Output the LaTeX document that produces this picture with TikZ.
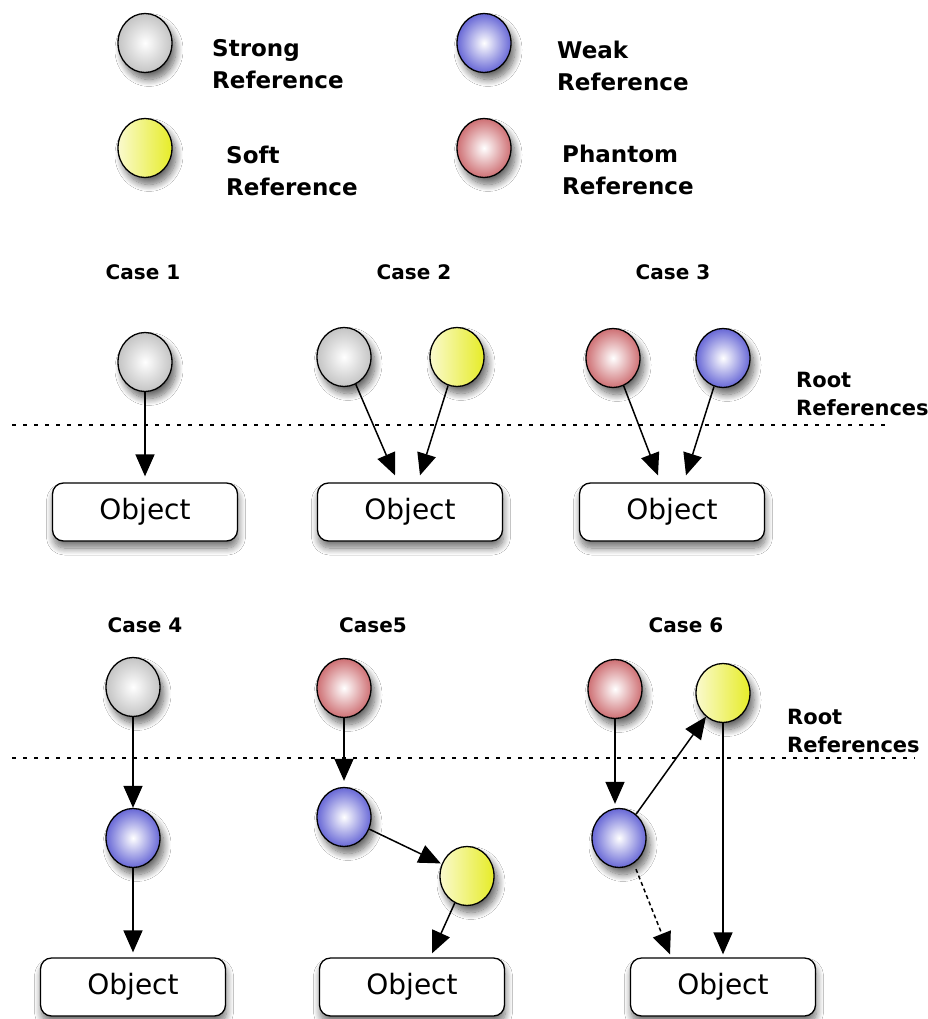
\documentclass[tikz,border=0pt]{standalone}
\usepackage{fontspec}
\setmainfont{DejaVu Sans}
\usetikzlibrary{arrows.meta,shapes.geometric,shadows.blur,calc}
\definecolor{grayout}{RGB}{196,196,196}
\definecolor{yelout}{RGB}{230,236,40}
\definecolor{yelin}{RGB}{250,250,205}
\definecolor{redout}{RGB}{206,112,116}
\definecolor{blueout}{RGB}{104,104,214}
\begin{document}
\begin{tikzpicture}[x=1pt,y=-1pt,
  ball/.style={ellipse,draw=black,line width=1.3pt,minimum width=54pt,minimum height=59pt,inner sep=0pt,
    blur shadow={shadow xshift=4pt,shadow yshift=-7pt,shadow blur radius=7pt,shadow blur steps=12,shadow opacity=60}},
  strongball/.style={ball,inner color=white,outer color=grayout},
  softball/.style={ball,left color=yelin,right color=yelout},
  weakball/.style={ball,inner color=white,outer color=blueout},
  phantomball/.style={ball,inner color=white,outer color=redout},
  obj/.style={draw=black,rounded corners=11pt,line width=1.3pt,minimum width=185pt,minimum height=58pt,fill=white,
    font=\fontsize{28}{30}\selectfont,
    blur shadow={shadow xshift=1pt,shadow yshift=-7pt,shadow blur radius=7pt,shadow blur steps=12,shadow opacity=55}},
  lbl/.style={font=\bfseries\fontsize{23}{32}\selectfont,align=left,anchor=west,inner sep=0pt},
  rootlbl/.style={font=\bfseries\fontsize{21}{28}\selectfont,align=left,anchor=west,inner sep=0pt},
  caselbl/.style={font=\bfseries\fontsize{20}{24}\selectfont,inner sep=0pt},
  arr/.style={-{Triangle[length=22pt,width=19pt]},line width=1.5pt},
  sep/.style={line width=1.6pt,dash pattern=on 4pt off 7pt},
]
\useasboundingbox[fill=white] (0,0) rectangle (928,1019);

% legend
\node[strongball] (ls) at (145,43) {};
\node[softball] (lso) at (145,148) {};
\node[weakball] (lw) at (484,43) {};
\node[phantomball] (lp) at (484,148) {};
\node[lbl] (tls) at (212,64) {Strong\\Reference};
\node[lbl] (tlso) at (226,171) {Soft\\Reference};
\node[lbl] (tlw) at (557,66) {Weak\\Reference};
\node[lbl] (tlp) at (562,170) {Phantom\\Reference};

% case labels
\node[caselbl] (k1) at (143,272) {Case 1};
\node[caselbl] (k2) at (414,272) {Case 2};
\node[caselbl] (k3) at (673,272) {Case 3};
\node[caselbl] (k4) at (145,625) {Case 4};
\node[caselbl] (k5) at (373,625) {Case5};
\node[caselbl] (k6) at (686,625) {Case 6};

% separators
\coordinate (s1a) at (12,425);
\coordinate (s1b) at (885,425);
\coordinate (s2a) at (12,758);
\coordinate (s2b) at (915,758);
\draw[sep] (s1a) -- (s1b);
\draw[sep] (s2a) -- (s2b);
\node[rootlbl] (r1) at (796,394) {Root\\References};
\node[rootlbl] (r2) at (787,731) {Root\\References};

% row 1
\node[strongball] (c1g) at (145,362) {};
\node[strongball] (c2g) at (344,357) {};
\node[softball] (c2y) at (457,357) {};
\node[phantomball] (c3r) at (613,358) {};
\node[weakball] (c3b) at (723,358) {};
\node[obj] (o1) at (145,512) {Object};
\node[obj] (o2) at (410,512) {Object};
\node[obj] (o3) at (672,512) {Object};

\draw[arr] (c1g) -- ($(o1.north)+(0,-6)$);
\draw[arr] (c2g) -- ($(o2.north)+(-15,-7)$);
\draw[arr] (c2y) -- ($(o2.north)+(10,-7)$);
\draw[arr] (c3r) -- ($(o3.north)+(-14,-7)$);
\draw[arr] (c3b) -- ($(o3.north)+(14,-7)$);

% row 2
\node[strongball] (c4g) at (133,687) {};
\node[weakball] (c4b) at (133,838) {};
\node[phantomball] (c5r) at (344,688) {};
\node[weakball] (c5b) at (344,817) {};
\node[softball] (c5y) at (467,876) {};
\node[phantomball] (c6r) at (615,689) {};
\node[softball] (c6y) at (723,693) {};
\node[weakball] (c6b) at (619,838) {};
\node[obj] (o4) at (133,987) {Object};
\node[obj] (o5) at (412,987) {Object};
\node[obj] (o6) at (723,987) {Object};

\draw[arr] (c4g) -- (c4b);
\draw[arr] (c4b) -- ($(o4.north)+(0,-5)$);
\draw[arr,shorten >=6pt] (c5r) -- (c5b);
\draw[arr,shorten >=1pt] (c5b) -- (c5y);
\draw[arr] (c5y) -- ($(o5.north)+(20,-4)$);
\draw[arr,shorten >=4pt] (c6r) -- (c6r |- c6b.north);
\draw[arr] (c6b) -- (c6y);
\draw[arr,dash pattern=on 4pt off 3pt,shorten <=6pt] (c6b.-60) -- ($(o6.north)+(-53,-3)$);
\draw[arr] (c6y) -- ($(o6.north)+(0,-3)$);
\end{tikzpicture}
\end{document}
